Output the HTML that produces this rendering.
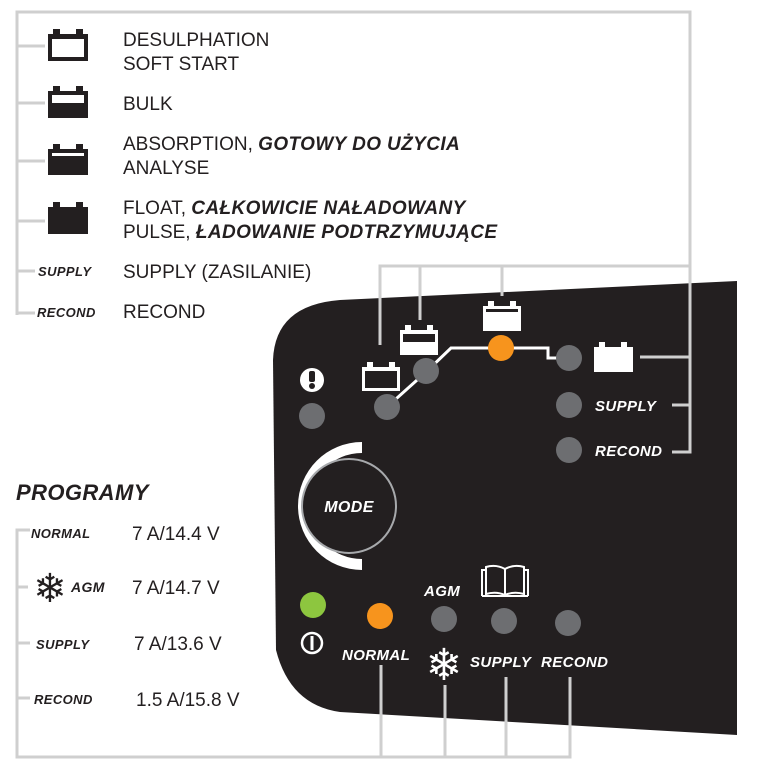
<!DOCTYPE html>
<html><head><meta charset="utf-8"><style>
html,body{margin:0;padding:0;background:#fff;}
svg{display:block;}
.t{font-family:"Liberation Sans",sans-serif;font-size:19px;fill:#231f20;}
.b{font-family:"Liberation Sans",sans-serif;font-weight:bold;font-style:italic;fill:#231f20;letter-spacing:0.4px;}
.w{font-family:"Liberation Sans",sans-serif;font-weight:bold;font-style:italic;fill:#fff;letter-spacing:0.4px;}
</style></head><body>
<svg width="759" height="771" viewBox="0 0 759 771" xmlns="http://www.w3.org/2000/svg">
<path d="M737,281 L737,735 L340,712 Q290,705 276,650 L273,360 Q275,305 340,300 Z" fill="#231f20"/>
<g stroke="#cfcfcf" stroke-width="3" fill="none">
<polyline points="17,315 17,12 690,12 690,452 672,452"/>
<line x1="690" y1="357" x2="640" y2="357"/>
<line x1="690" y1="405" x2="672" y2="405"/>
<line x1="17" y1="46" x2="45" y2="46"/>
<line x1="17" y1="103" x2="45" y2="103"/>
<line x1="17" y1="161" x2="45" y2="161"/>
<line x1="17" y1="221" x2="45" y2="221"/>
<line x1="17" y1="271" x2="35" y2="271"/>
<line x1="17" y1="313" x2="35" y2="313"/>
<polyline points="380,345 380,266 690,266"/>
<line x1="420" y1="266" x2="420" y2="320"/>
<line x1="502" y1="266" x2="502" y2="296"/>
<polyline points="30,530 17,530 17,757 570,757 570,677"/>
<line x1="381" y1="757" x2="381" y2="665"/>
<line x1="445" y1="757" x2="445" y2="685"/>
<line x1="506" y1="757" x2="506" y2="677"/>
<line x1="17" y1="587" x2="28" y2="587"/>
<line x1="17" y1="643" x2="30" y2="643"/>
<line x1="17" y1="698" x2="30" y2="698"/>
</g>
<g fill="#231f20">
<rect x="48" y="34" width="40" height="27"/><rect x="53" y="29" width="7" height="5"/><rect x="76" y="29" width="7" height="5"/>
<rect x="52" y="39" width="32" height="18" fill="#fff"/>
<rect x="48" y="91" width="40" height="27"/><rect x="53" y="86" width="7" height="5"/><rect x="76" y="86" width="7" height="5"/>
<rect x="52" y="95" width="32" height="8" fill="#fff"/>
<rect x="48" y="149" width="40" height="26"/><rect x="53" y="144" width="7" height="5"/><rect x="76" y="144" width="7" height="5"/>
<rect x="52" y="153" width="32" height="3" fill="#fff"/>
<rect x="48" y="207" width="40" height="27"/><rect x="53" y="202" width="7" height="5"/><rect x="76" y="202" width="7" height="5"/>
</g>
<text class="b" x="38" y="276" font-size="13">SUPPLY</text>
<text class="b" x="37" y="317" font-size="13">RECOND</text>
<text class="t" x="123" y="46">DESULPHATION</text>
<text class="t" x="123" y="70">SOFT START</text>
<text class="t" x="123" y="110">BULK</text>
<text class="t" x="123" y="150">ABSORPTION, <tspan class="b">GOTOWY DO UŻYCIA</tspan></text>
<text class="t" x="123" y="174">ANALYSE</text>
<text class="t" x="123" y="214">FLOAT, <tspan class="b">CAŁKOWICIE NAŁADOWANY</tspan></text>
<text class="t" x="123" y="238">PULSE, <tspan class="b">ŁADOWANIE PODTRZYMUJĄCE</tspan></text>
<text class="t" x="123" y="278">SUPPLY (ZASILANIE)</text>
<text class="t" x="123" y="318">RECOND</text>
<text class="b" x="16" y="500" font-size="22">PROGRAMY</text>
<text class="b" x="31" y="538" font-size="13">NORMAL</text>
<text class="b" x="71" y="592" font-size="14">AGM</text>
<text class="b" x="36" y="649" font-size="13">SUPPLY</text>
<text class="b" x="34" y="704" font-size="13">RECOND</text>
<text x="50" y="602" font-size="40" font-family="DejaVu Sans,sans-serif" text-anchor="middle" fill="#231f20">❄</text>
<text class="t" x="132" y="540">7 A/14.4 V</text>
<text class="t" x="132" y="594">7 A/14.7 V</text>
<text class="t" x="134" y="650">7 A/13.6 V</text>
<text class="t" x="136" y="706">1.5 A/15.8 V</text>
<g fill="#fff">
<rect x="362" y="367" width="38" height="24"/><rect x="367" y="362" width="6" height="5"/><rect x="389" y="362" width="6" height="5"/>
<rect x="365" y="371" width="32" height="17" fill="#231f20"/>
<rect x="400" y="330" width="38" height="25"/><rect x="405" y="325" width="6" height="5"/><rect x="427" y="325" width="6" height="5"/>
<rect x="403" y="334" width="32" height="8" fill="#231f20"/>
<rect x="483" y="306" width="38" height="25"/><rect x="488" y="301" width="6" height="5"/><rect x="510" y="301" width="6" height="5"/>
<rect x="486" y="309" width="32" height="3" fill="#231f20"/>
<rect x="594" y="347" width="39" height="25"/><rect x="599" y="342" width="6" height="5"/><rect x="621" y="342" width="6" height="5"/>
</g>
<polyline points="387,407 426,372 451,348 548,348 548,358 568,358" stroke="#fff" stroke-width="3" fill="none"/>
<g fill="#6d6e71">
<circle cx="387" cy="407" r="13"/><circle cx="426" cy="371" r="13"/><circle cx="569" cy="358" r="13"/>
<circle cx="569" cy="405" r="13"/><circle cx="569" cy="450" r="13"/><circle cx="312" cy="416" r="13"/>
<circle cx="444" cy="619" r="13"/><circle cx="504" cy="621" r="13"/><circle cx="568" cy="623" r="13"/>
</g>
<circle cx="501" cy="348" r="13" fill="#f7941d"/>
<circle cx="380" cy="616" r="13" fill="#f7941d"/>
<circle cx="313" cy="605" r="13" fill="#8dc63f"/>
<circle cx="312" cy="380" r="12" fill="#fff"/>
<rect x="309" y="371" width="6" height="11" rx="2" fill="#231f20"/>
<circle cx="312" cy="386" r="3" fill="#231f20"/>
<circle cx="312" cy="643" r="10" fill="none" stroke="#fff" stroke-width="2.5"/>
<rect x="310.5" y="636" width="3" height="14" fill="#fff"/>
<text class="w" x="595" y="411" font-size="15">SUPPLY</text>
<text class="w" x="595" y="456" font-size="15">RECOND</text>
<path d="M362,442 A64,64 0 0 0 362,570 L362,559 A53,53 0 0 1 362,453 Z" fill="#fff"/>
<circle cx="349" cy="506" r="47" fill="#231f20" stroke="#a7a9ac" stroke-width="2"/>
<text class="w" x="349" y="512" font-size="16" text-anchor="middle">MODE</text>
<text class="w" x="424" y="596" font-size="15">AGM</text>
<text class="w" x="342" y="660" font-size="15">NORMAL</text>
<text class="w" x="470" y="667" font-size="15">SUPPLY</text>
<text class="w" x="541" y="667" font-size="15">RECOND</text>
<text x="444" y="680" font-size="44" font-family="DejaVu Sans,sans-serif" text-anchor="middle" fill="#fff">❄</text>
<g stroke="#fff" stroke-width="2" fill="none">
<path d="M482,596 L482,570 L486,570 M528,596 L528,570 L524,570"/>
<path d="M486,594 L486,567 Q496,564 505,569 Q514,564 524,567 L524,594 Q514,591 505,595 Q496,591 486,594 Z"/>
<line x1="505" y1="569" x2="505" y2="595"/>
<line x1="482" y1="596" x2="528" y2="596"/>
</g>
</svg>
</body></html>
